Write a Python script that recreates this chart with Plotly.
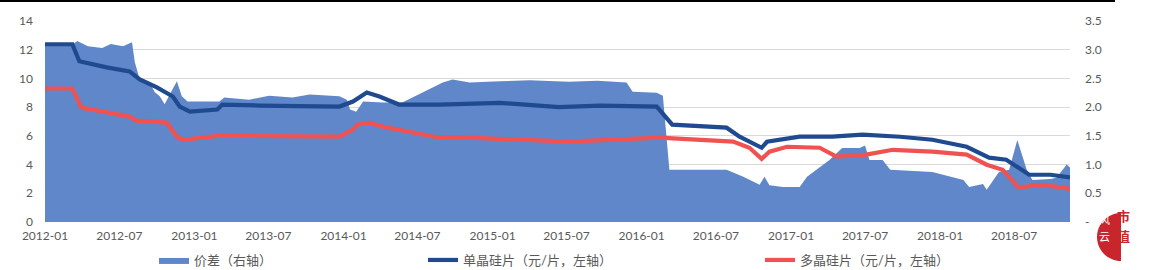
import plotly.graph_objects as go

# ---------------- data ----------------
spread_dates = [
    "2012-01-01", "2012-03-08", "2012-03-20", "2012-04-15", "2012-05-20", "2012-06-10",
    "2012-07-10", "2012-08-01", "2012-08-08", "2012-08-20", "2012-09-15", "2012-09-26",
    "2012-10-08", "2012-10-20", "2012-11-05", "2012-11-19", "2012-12-01", "2012-12-15",
    "2013-03-03", "2013-03-15", "2013-05-15", "2013-07-03", "2013-08-29", "2013-10-10",
    "2013-12-22", "2014-01-09", "2014-01-17", "2014-02-01", "2014-02-18", "2014-04-07",
    "2014-05-25", "2014-07-13", "2014-09-01", "2014-09-25", "2014-11-06", "2015-01-19",
    "2015-04-01", "2015-07-07", "2015-09-15", "2015-11-25", "2015-12-10", "2016-02-07",
    "2016-02-22", "2016-03-09", "2016-07-27", "2016-09-06", "2016-10-16", "2016-10-28",
    "2016-11-09", "2016-12-12", "2017-01-22", "2017-02-09", "2017-04-05", "2017-05-06",
    "2017-06-18", "2017-07-01", "2017-07-12", "2017-08-13", "2017-09-01", "2017-12-13",
    "2018-02-27", "2018-03-13", "2018-04-16", "2018-04-25", "2018-05-25", "2018-06-19",
    "2018-07-09", "2018-08-01", "2018-08-15", "2018-09-28", "2018-10-13", "2018-11-07",
    "2018-11-15",
]
spread_vals = [
    3.09, 3.09, 3.15, 3.06, 3.03, 3.10,
    3.06, 3.13, 2.78, 2.48, 2.40, 2.26,
    2.19, 2.05, 2.27, 2.45, 2.19, 2.10,
    2.10, 2.17, 2.13, 2.20, 2.17, 2.22,
    2.19, 2.13, 1.96, 1.92, 2.10, 2.08,
    2.08, 2.25, 2.43, 2.48, 2.43, 2.45,
    2.47, 2.44, 2.46, 2.43, 2.27, 2.25,
    2.20, 0.91, 0.91, 0.79, 0.65, 0.79,
    0.64, 0.61, 0.61, 0.79, 1.08, 1.29,
    1.29, 1.33, 1.08, 1.08, 0.91, 0.87,
    0.73, 0.61, 0.66, 0.56, 0.87, 0.91,
    1.43, 0.91, 0.73, 0.75, 0.77, 1.00,
    0.95,
]

mono_dates = [
    "2012-01-01", "2012-03-08", "2012-03-25", "2012-05-31", "2012-07-26", "2012-08-20",
    "2012-10-01", "2012-11-09", "2012-11-26", "2012-12-21", "2013-02-26", "2013-03-10",
    "2013-06-09", "2013-12-22", "2014-01-24", "2014-02-27", "2014-03-30", "2014-05-17",
    "2014-08-24", "2015-01-19", "2015-06-13", "2015-09-20", "2016-02-07", "2016-03-01",
    "2016-03-16", "2016-07-27", "2016-08-28", "2016-10-21", "2016-11-03", "2017-01-22",
    "2017-04-12", "2017-06-25", "2017-09-25", "2017-12-13", "2018-03-07", "2018-05-01",
    "2018-06-12", "2018-08-07", "2018-09-28", "2018-11-15",
]
mono_vals = [
    12.38, 12.38, 11.20, 10.77, 10.49, 9.93,
    9.37, 8.74, 8.04, 7.69, 7.83, 8.18,
    8.11, 8.04, 8.39, 9.02, 8.74, 8.18,
    8.18, 8.30, 8.00, 8.11, 8.04, 7.34,
    6.78, 6.57, 5.94, 5.17, 5.59, 5.94,
    5.94, 6.08, 5.94, 5.73, 5.24, 4.48,
    4.34, 3.29, 3.29, 3.10,
]

poly_dates = [
    "2012-01-01", "2012-03-08", "2012-03-30", "2012-07-26", "2012-08-12", "2012-10-25",
    "2012-11-19", "2012-12-04", "2013-03-03", "2013-12-22", "2014-01-24", "2014-02-04",
    "2014-03-06", "2014-04-07", "2014-08-24", "2014-11-06", "2015-07-07", "2016-02-13",
    "2016-08-12", "2016-09-21", "2016-10-21", "2016-11-09", "2016-12-22", "2017-03-12",
    "2017-04-22", "2017-07-04", "2017-09-07", "2017-12-13", "2018-03-07", "2018-04-25",
    "2018-06-03", "2018-06-19", "2018-07-13", "2018-08-25", "2018-09-28", "2018-11-15",
]
poly_vals = [
    9.30, 9.30, 7.97, 7.34, 7.06, 6.92,
    5.94, 5.73, 6.01, 5.94, 6.43, 6.78,
    6.92, 6.64, 5.87, 5.87, 5.60, 5.87,
    5.60, 5.17, 4.40, 4.90, 5.24, 5.17,
    4.55, 4.69, 5.03, 4.90, 4.69, 3.99,
    3.64, 3.15, 2.38, 2.59, 2.52, 2.30,
]

x_tickvals = ["2012-01-01", "2012-07-01", "2013-01-01", "2013-07-01", "2014-01-01",
              "2014-07-01", "2015-01-01", "2015-07-01", "2016-01-01", "2016-07-01",
              "2017-01-01", "2017-07-01", "2018-01-01", "2018-07-01"]
x_ticktext = ["2012-01", "2012-07", "2013-01", "2013-07", "2014-01", "2014-07",
              "2015-01", "2015-07", "2016-01", "2016-07", "2017-01", "2017-07",
              "2018-01", "2018-07"]
left_tickvals = [0, 2, 4, 6, 8, 10, 12, 14]
left_ticktext = ["0", "2", "4", "6", "8", "10", "12", "14"]
right_tickvals = [0, 0.5, 1.0, 1.5, 2.0, 2.5, 3.0, 3.5]
right_ticktext = ["-", "0.5", "1.0", "1.5", "2.0", "2.5", "3.0", "3.5"]

series_names = ["价差（右轴）", "单晶硅片（元/片，左轴）", "多晶硅片（元/片，左轴）"]

# ---------------- styling ----------------
AREA = "#5F87C9"
MONO = "#1F4A8F"
POLY = "#F05252"
TXT = "#595959"
FONT = "Lato, Noto Sans CJK SC, sans-serif"

W, H = 1152, 270
L, R, T, B = 45, 82, 21, 48
PW, PH = W - L - R, H - T - B


def px(x):
    return (x - L) / PW


def py(y):
    return (H - B - y) / PH


fig = go.Figure()
fig.add_trace(go.Scatter(
    x=spread_dates, y=spread_vals, name=series_names[0], mode="lines",
    line=dict(width=0, color=AREA), fill="tozeroy", fillcolor=AREA,
    xaxis="x", yaxis="y", legend="legend", hoverinfo="skip",
))
fig.add_trace(go.Scatter(
    x=mono_dates, y=mono_vals, name=series_names[1], mode="lines",
    line=dict(width=4.2, color=MONO), xaxis="x", yaxis="y2", legend="legend2",
))
fig.add_trace(go.Scatter(
    x=poly_dates, y=poly_vals, name=series_names[2], mode="lines",
    line=dict(width=4.2, color=POLY), xaxis="x", yaxis="y2", legend="legend3",
))

leg_common = dict(orientation="h", yanchor="middle", xanchor="left", y=py(260),
                  bgcolor="rgba(0,0,0,0)", font=dict(family=FONT, size=13, color=TXT),
                  borderwidth=0)

# logo (decoration)
logo_path = "M {a},{b} C {c},{b} {d},{e} {d},{f} C {d},{g} {c},{h} {a},{h} Z".format(
    a=px(1121), b=py(213), c=px(1107.7), d=px(1097), e=py(223.7), f=py(237),
    g=py(250.3), h=py(261))

fig.update_layout(
    width=W, height=H,
    margin=dict(l=L, r=R, t=T, b=B, pad=0, autoexpand=False),
    paper_bgcolor="white", plot_bgcolor="white",
    font=dict(family=FONT, size=12, color=TXT),
    showlegend=True,
    legend=dict(leg_common, x=px(154)),
    legend2=dict(leg_common, x=px(423)),
    legend3=dict(leg_common, x=px(760)),
    xaxis=dict(type="date", range=["2012-01-01", "2018-11-15"], tickvals=x_tickvals,
               ticktext=x_ticktext, showgrid=False, zeroline=False, showline=False,
               ticks="", ticklabelstandoff=5, tickfont=dict(size=12, color=TXT)),
    yaxis=dict(side="right", range=[0, 3.5], tickvals=right_tickvals, ticktext=right_ticktext,
               showgrid=True, gridcolor="#D9D9D9", gridwidth=1, zeroline=False,
               showline=False, ticks="", ticklabelstandoff=14,
               tickfont=dict(size=12, color=TXT)),
    yaxis2=dict(side="left", overlaying="y", range=[0, 14], tickvals=left_tickvals,
                ticktext=left_ticktext, showgrid=False, zeroline=False, showline=False,
                ticks="", ticklabelstandoff=11, tickfont=dict(size=12, color=TXT)),
    shapes=[
        dict(type="line", xref="paper", yref="paper", x0=px(0), x1=px(1115),
             y0=py(1), y1=py(1), line=dict(color="black", width=2), layer="above"),
        dict(type="path", xref="paper", yref="paper", path=logo_path,
             fillcolor="#C8252C", line=dict(width=0), layer="above"),
    ],
    annotations=[
        dict(text="风", xref="paper", yref="paper", x=px(1112), y=py(229), showarrow=False,
             font=dict(family="Noto Sans CJK SC", size=11, color="white")),
        dict(text="云", xref="paper", yref="paper", x=px(1112), y=py(246), showarrow=False,
             font=dict(family="Noto Sans CJK SC", size=11, color="white")),
        dict(text="<b>市</b>", xref="paper", yref="paper", x=px(1132), y=py(227), showarrow=False,
             font=dict(family="Noto Sans CJK SC", size=13, color="#C8252C")),
        dict(text="<b>值</b>", xref="paper", yref="paper", x=px(1132), y=py(247), showarrow=False,
             font=dict(family="Noto Sans CJK SC", size=13, color="#C8252C")),
    ],
)

fig.write_html("out.html")
